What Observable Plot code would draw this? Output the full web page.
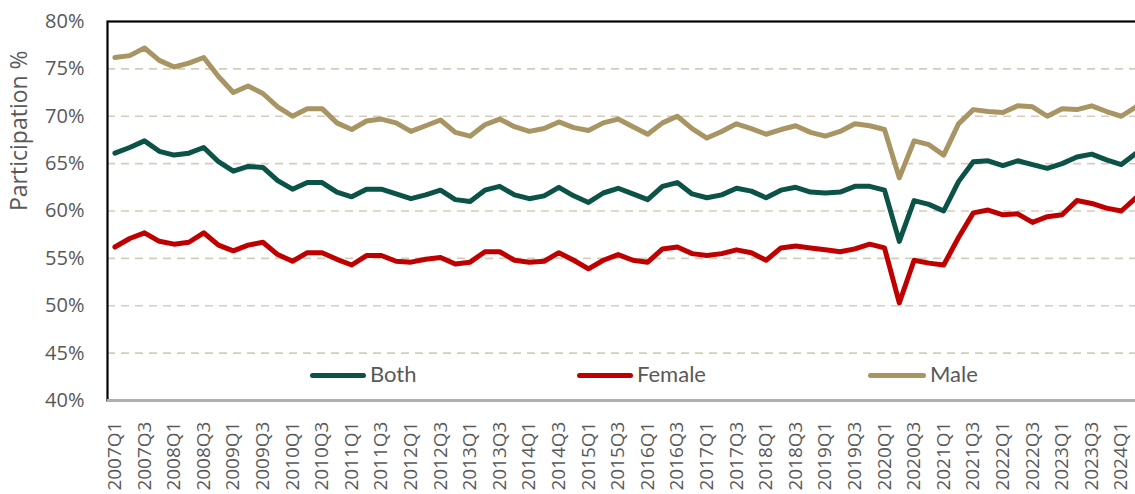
<!DOCTYPE html>
<html>
<head>
<meta charset="utf-8">
<script src="https://cdn.jsdelivr.net/npm/d3@7"></script>
<script src="https://cdn.jsdelivr.net/npm/@observablehq/plot@0.6"></script>
<style>
  html, body { margin: 0; padding: 0; background: #ffffff; }
  #wrap { position: relative; width: 1135px; height: 494px; overflow: hidden; background: #ffffff; }
  #chart svg { max-width: none !important; }
  #legend { position: absolute; left: 0; top: 0; width: 100%; height: 0; }
  .lg-line { position: absolute; height: 5px; border-radius: 3px; }
  .lg-text { position: absolute; font-family: Lato, "Noto Sans", sans-serif; font-size: 22px; line-height: 22px; color: #595959; white-space: nowrap; }
</style>
</head>
<body>
<div id="wrap"><div id="chart"></div><div id="legend"></div></div>
<script>
// Quarterly labour-force participation rate (%), 2007Q1 – 2024Q2
const quarters = [
  "2007Q1","2007Q2","2007Q3","2007Q4","2008Q1","2008Q2","2008Q3","2008Q4",
  "2009Q1","2009Q2","2009Q3","2009Q4","2010Q1","2010Q2","2010Q3","2010Q4",
  "2011Q1","2011Q2","2011Q3","2011Q4","2012Q1","2012Q2","2012Q3","2012Q4",
  "2013Q1","2013Q2","2013Q3","2013Q4","2014Q1","2014Q2","2014Q3","2014Q4",
  "2015Q1","2015Q2","2015Q3","2015Q4","2016Q1","2016Q2","2016Q3","2016Q4",
  "2017Q1","2017Q2","2017Q3","2017Q4","2018Q1","2018Q2","2018Q3","2018Q4",
  "2019Q1","2019Q2","2019Q3","2019Q4","2020Q1","2020Q2","2020Q3","2020Q4",
  "2021Q1","2021Q2","2021Q3","2021Q4","2022Q1","2022Q2","2022Q3","2022Q4",
  "2023Q1","2023Q2","2023Q3","2023Q4","2024Q1","2024Q2"
];

const both = [
  66.1, 66.7, 67.4, 66.3, 65.9, 66.1, 66.7, 65.2,
  64.2, 64.7, 64.6, 63.2, 62.3, 63.0, 63.0, 62.0,
  61.5, 62.3, 62.3, 61.8, 61.3, 61.7, 62.2, 61.2,
  61.0, 62.2, 62.6, 61.7, 61.3, 61.6, 62.5, 61.6,
  60.9, 61.9, 62.4, 61.8, 61.2, 62.6, 63.0, 61.8,
  61.4, 61.7, 62.4, 62.1, 61.4, 62.2, 62.5, 62.0,
  61.9, 62.0, 62.6, 62.6, 62.2, 56.8, 61.1, 60.7,
  60.0, 63.1, 65.2, 65.3, 64.8, 65.3, 64.9, 64.5,
  65.0, 65.7, 66.0, 65.4, 64.9, 66.1
];

const female = [
  56.2, 57.1, 57.7, 56.8, 56.5, 56.7, 57.7, 56.4,
  55.8, 56.4, 56.7, 55.4, 54.7, 55.6, 55.6, 54.9,
  54.3, 55.3, 55.3, 54.7, 54.6, 54.9, 55.1, 54.4,
  54.6, 55.7, 55.7, 54.8, 54.6, 54.7, 55.6, 54.8,
  53.9, 54.8, 55.4, 54.8, 54.6, 56.0, 56.2, 55.5,
  55.3, 55.5, 55.9, 55.6, 54.8, 56.1, 56.3, 56.1,
  55.9, 55.7, 56.0, 56.5, 56.1, 50.3, 54.8, 54.5,
  54.3, 57.2, 59.8, 60.1, 59.6, 59.7, 58.8, 59.4,
  59.6, 61.1, 60.8, 60.3, 60.0, 61.4
];

const male = [
  76.2, 76.4, 77.2, 75.9, 75.2, 75.6, 76.2, 74.2,
  72.5, 73.2, 72.4, 71.0, 70.0, 70.8, 70.8, 69.3,
  68.6, 69.5, 69.7, 69.3, 68.4, 69.0, 69.6, 68.3,
  67.9, 69.1, 69.7, 68.9, 68.4, 68.7, 69.4, 68.8,
  68.5, 69.3, 69.7, 68.9, 68.1, 69.3, 70.0, 68.7,
  67.7, 68.4, 69.2, 68.7, 68.1, 68.6, 69.0, 68.3,
  67.9, 68.4, 69.2, 69.0, 68.6, 63.5, 67.4, 67.0,
  65.9, 69.2, 70.7, 70.5, 70.4, 71.1, 71.0, 70.0,
  70.8, 70.7, 71.1, 70.5, 70.0, 71.0
];

const seriesNames = ["Both", "Female", "Male"];
const seriesColors = ["#0b5247", "#c00000", "#a89563"];

// every second quarter is labelled on the category axis
const xTickLabels = [
  "2007Q1","2007Q3","2008Q1","2008Q3","2009Q1","2009Q3","2010Q1","2010Q3",
  "2011Q1","2011Q3","2012Q1","2012Q3","2013Q1","2013Q3","2014Q1","2014Q3",
  "2015Q1","2015Q3","2016Q1","2016Q3","2017Q1","2017Q3","2018Q1","2018Q3",
  "2019Q1","2019Q3","2020Q1","2020Q3","2021Q1","2021Q3","2022Q1","2022Q3",
  "2023Q1","2023Q3","2024Q1"
];
const yTicks = [40, 45, 50, 55, 60, 65, 70, 75, 80];
const yGrid = [45, 50, 55, 60, 65, 70, 75];

const seriesValues = { Both: both, Female: female, Male: male };
const rows = seriesNames.flatMap(name =>
  quarters.map((q, i) => ({ quarter: q, series: name, value: seriesValues[name][i] }))
);

const chart = Plot.plot({
  width: 1150,
  height: 494,
  marginLeft: 107,
  marginRight: 7,
  marginTop: 21,
  marginBottom: 94,
  style: { fontFamily: "'Open Sans', sans-serif", color: "#595959", background: "#ffffff", maxWidth: "none" },
  x: { type: "point", domain: quarters, padding: 0.5, axis: null },
  y: { domain: [40, 80], axis: null },
  color: { domain: seriesNames, range: seriesColors },
  marks: [
    Plot.ruleY(yGrid, { stroke: "#d6cdb8", strokeWidth: 1.6, strokeDasharray: "8,6" }),
    Plot.frame({ stroke: "#000000", strokeWidth: 2.2 }),
    Plot.ruleY([40], { stroke: "#b0b0b0", strokeWidth: 3 }),
    Plot.line(rows, {
      x: "quarter", y: "value", z: "series", stroke: "series",
      strokeWidth: 5, strokeLinejoin: "round", strokeLinecap: "round"
    }),
    Plot.axisY({
      ticks: yTicks, tickFormat: d => d + "%", tickSize: 0, tickPadding: 23,
      fontSize: 20, fontFamily: "'Open Sans', sans-serif", fill: "#595959", label: null
    }),
    Plot.axisX({
      ticks: xTickLabels, tickRotate: -90, tickSize: 0, tickPadding: 21,
      fontSize: 19, fontFamily: "'Open Sans', sans-serif", fill: "#595959", label: null
    }),
    Plot.text(["Participation %"], {
      frameAnchor: "left", text: d => d, rotate: -90, dx: -88,
      fontSize: 23, fontFamily: "'Open Sans', sans-serif", fill: "#595959"
    })
  ]
});
document.getElementById("chart").appendChild(chart);

// legend placed inside the plotting area, along its lower edge
const legendPos = [
  { line: 309.5, text: 370 },
  { line: 577, text: 637 },
  { line: 868, text: 930 }
];
const legend = d3.select("#legend");
seriesNames.forEach((name, i) => {
  legend.append("div").attr("class", "lg-line")
    .style("left", legendPos[i].line + "px").style("top", "372.5px")
    .style("width", (legendPos[i].text - legendPos[i].line - 4) + "px")
    .style("background", seriesColors[i]);
  legend.append("div").attr("class", "lg-text")
    .style("left", legendPos[i].text + "px").style("top", "362.5px")
    .text(name);
});
</script>
</body>
</html>
